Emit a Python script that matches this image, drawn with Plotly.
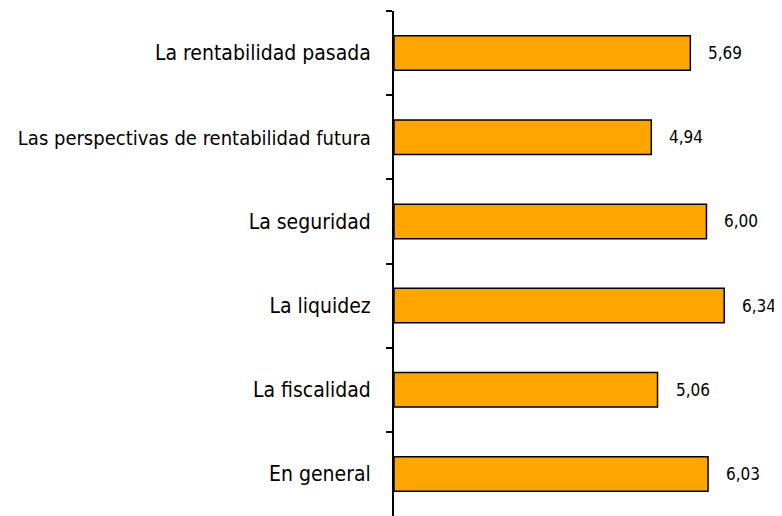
import plotly.graph_objects as go

categories = ["La rentabilidad pasada", "Las perspectivas de rentabilidad futura",
              "La seguridad", "La liquidez", "La fiscalidad", "En general"]
values = [5.69, 4.94, 6.00, 6.34, 5.06, 6.03]
value_labels = [f"{v:.2f}".replace(".", ",") for v in values]

FONT = "DejaVu Sans Condensed, DejaVu Sans"

# the longest label is drawn a touch smaller so that it stays inside the page
y_labels = [f'<span style="font-size:20px">{c}</span>' if len(c) > 30 else c
            for c in categories]

fig = go.Figure(go.Bar(
    x=values, y=y_labels, orientation="h",
    marker=dict(color="#FFA500", line=dict(color="black", width=1.5)),
    width=0.41, hoverinfo="skip",
))

for c, v, t in zip(y_labels, values, value_labels):
    fig.add_annotation(x=v, y=c, text=t, showarrow=False, xanchor="left",
                       xshift=16, font=dict(family=FONT, size=17, color="black"))

fig.update_layout(
    width=774, height=508,
    margin=dict(l=386, r=0, t=3, b=0, autoexpand=False),
    plot_bgcolor="white", paper_bgcolor="white",
    showlegend=False,
    xaxis=dict(range=[0, 7.45], visible=False, fixedrange=True, automargin=False),
    yaxis=dict(type="category", autorange="reversed", showline=True, linecolor="black",
               linewidth=2, ticks="outside", ticklen=6, tickcolor="black", tickwidth=2,
               tickson="boundaries", showgrid=False, ticklabelstandoff=17, automargin=False,
               tickfont=dict(family=FONT, size=21, color="black")),
)

fig.write_html("out.html")
